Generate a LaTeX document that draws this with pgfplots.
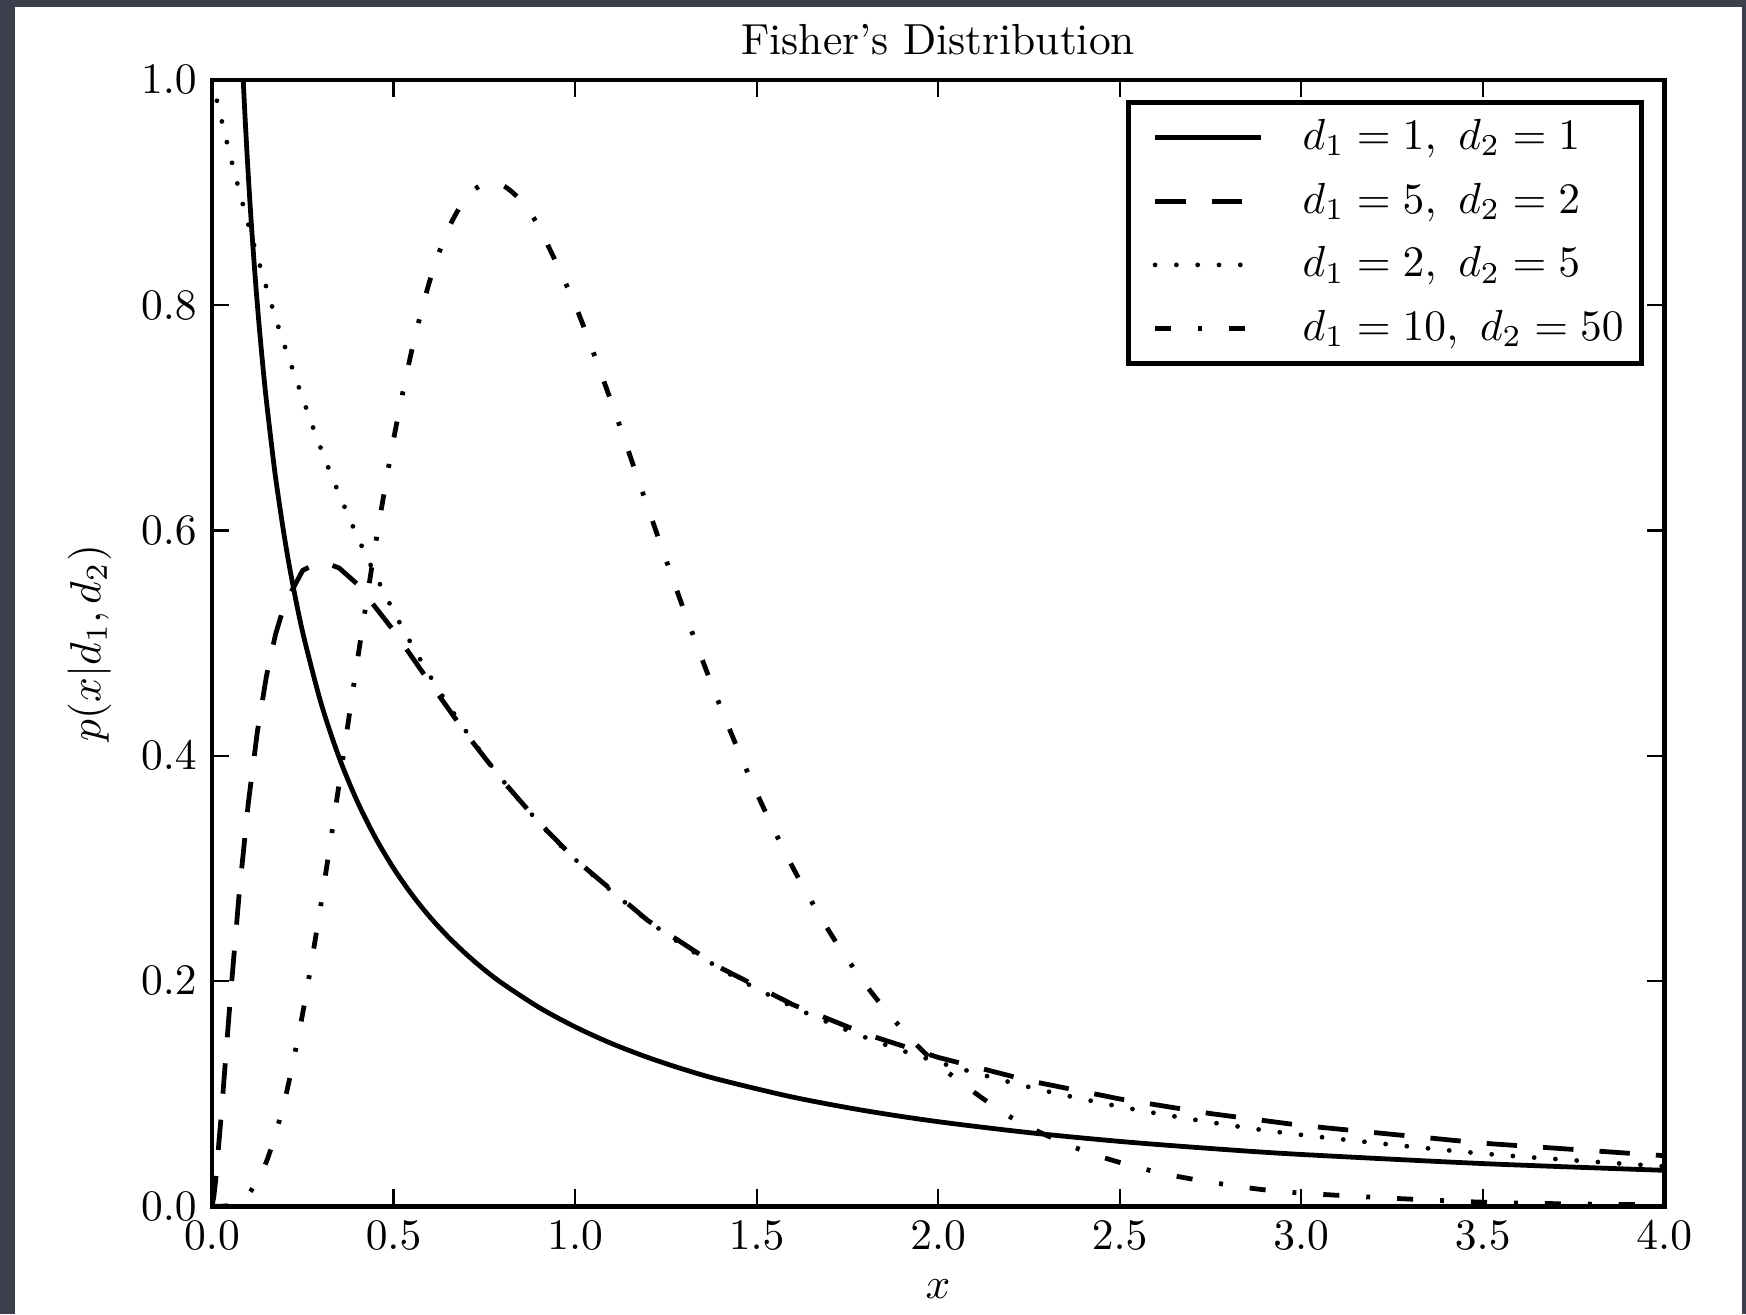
\documentclass[border=0pt]{standalone}
\usepackage{pgfplots}
\pgfplotsset{compat=1.18}
\usetikzlibrary{backgrounds}

\definecolor{slate}{RGB}{60,64,77}

\begin{document}
\begin{tikzpicture}
\begin{axis}[
    scale only axis,
    width=334pt, height=259pt,
    xmin=0, xmax=4, ymin=0, ymax=1,
    xtick={0,0.5,...,4}, ytick={0,0.2,...,1},
    xticklabel style={/pgf/number format/.cd,fixed,fixed zerofill,precision=1},
    yticklabel style={/pgf/number format/.cd,fixed,fixed zerofill,precision=1},
    title={Fisher's Distribution},
    title style={yshift=-3.8pt},
    xlabel={$x$},
    ylabel={$p(x|d_1,d_2)$},
    axis line style={line width=1.1pt},
    tick style={line width=0.5pt, black},
    major tick length=3.9pt,
    tick align=inside,
    legend cell align=left,
    legend style={at={(0.986,0.982)}, anchor=north east, draw=black,
        line width=1.1pt, inner xsep=2pt, inner ysep=1.3pt,
        nodes={inner xsep=2.1pt, inner ysep=2.5pt}, row sep=1.2pt,
        /tikz/every odd column/.append style={column sep=7pt}},
    legend image code/.code={\path (-3.6pt,0pt); \draw[#1] (0pt,0pt) -- (24.3pt,0pt);},
    every axis plot/.append style={line width=1.1pt, black},
]
% d1=1, d2=1
\addplot[solid, smooth] coordinates {
(0.08,1.042)(0.09,0.9734)(0.1,0.915)(0.11,0.8646)(0.12,0.8204)(0.13,0.7813)
(0.14,0.7462)(0.15,0.7147)(0.17,0.6598)(0.18,0.6358)(0.2,0.5931)(0.22,0.5563)
(0.25,0.5093)(0.3,0.4470)(0.35,0.3985)(0.4,0.3595)(0.45,0.3272)(0.5,0.3001)
(0.55,0.2769)(0.6,0.2568)(0.65,0.2393)(0.7,0.2238)(0.75,0.2100)(0.8,0.1977)
(0.9,0.1766)(1.0,0.1592)(1.1,0.1445)(1.2,0.1321)(1.3,0.1214)(1.4,0.1121)
(1.6,0.0968)(1.8,0.0847)(2.0,0.0750)(2.25,0.0653)(2.5,0.0575)(2.75,0.0512)
(3.0,0.0459)(3.5,0.0378)(4.0,0.0318)};
\addlegendentry{$d_1=1,\ d_2=1$}

% d1=5, d2=2
\addplot[dash pattern=on 7pt off 6pt] coordinates {
(0,0)(0.005,0.0084)(0.01,0.0227)(0.025,0.0790)(0.05,0.1829)(0.075,0.2781)
(0.1,0.3578)(0.125,0.4215)(0.15,0.4708)(0.175,0.5078)(0.2,0.5346)
(0.25,0.5646)(0.3,0.5726)(0.35,0.5667)(0.4,0.5524)(0.5,0.5112)(0.6,0.4648)
(0.7,0.4195)(0.8,0.3780)(0.9,0.3409)(1.0,0.3080)(1.2,0.2537)(1.4,0.2117)
(1.6,0.1789)(1.8,0.1529)(2.0,0.1321)(2.25,0.1114)(2.5,0.0952)(2.75,0.0822)
(3.0,0.0717)(3.5,0.0559)(4.0,0.0448)};
\addlegendentry{$d_1=5,\ d_2=2$}

% d1=2, d2=5
\addplot[smooth, line cap=round, dash pattern=on 0pt off 4.9pt] coordinates {
(0,1)(0.05,0.9330)(0.1,0.8717)(0.15,0.8155)(0.2,0.7639)(0.3,0.6726)
(0.4,0.5949)(0.5,0.5283)(0.6,0.4710)(0.7,0.4215)(0.8,0.3784)(0.9,0.3409)
(1.0,0.3080)(1.2,0.2536)(1.4,0.2109)(1.6,0.1770)(1.8,0.1498)(2.0,0.1278)
(2.25,0.1058)(2.5,0.0884)(2.75,0.0745)(3.0,0.0633)(3.5,0.0467)(4.0,0.0353)};
\addlegendentry{$d_1=2,\ d_2=5$}

% d1=10, d2=50
\addplot[smooth, dash pattern=on 3.7pt off 6.2pt on 0.9pt off 6.2pt] coordinates {
(0,0)(0.05,0.0009)(0.1,0.0105)(0.15,0.0396)(0.2,0.0937)(0.25,0.1717)
(0.3,0.2680)(0.35,0.3746)(0.4,0.4834)(0.45,0.5872)(0.5,0.6806)(0.55,0.7595)
(0.6,0.8219)(0.65,0.8671)(0.7,0.8954)(0.75,0.9080)(0.8,0.9065)(0.85,0.8931)
(0.9,0.8695)(1.0,0.8004)(1.1,0.7140)(1.2,0.6207)(1.3,0.5291)(1.4,0.4437)
(1.5,0.3671)(1.6,0.3006)(1.7,0.2440)(1.8,0.1967)(1.9,0.1575)(2.0,0.1256)
(2.2,0.0790)(2.4,0.0492)(2.6,0.0304)(2.8,0.0188)(3.0,0.0116)(3.5,0.0035)
(4.0,0.0011)};
\addlegendentry{$d_1=10,\ d_2=50$}
\end{axis}
\begin{scope}[on background layer]
\fill[slate] (-48.76pt,-24.84pt) rectangle (352.8pt,277.4pt);
\fill[white] (-45.3pt,-24.84pt) rectangle (351.9pt,275.8pt);
\end{scope}
\pgfresetboundingbox
\useasboundingbox (-48.76pt,-24.84pt) rectangle (352.8pt,277.4pt);
\end{tikzpicture}
\end{document}
